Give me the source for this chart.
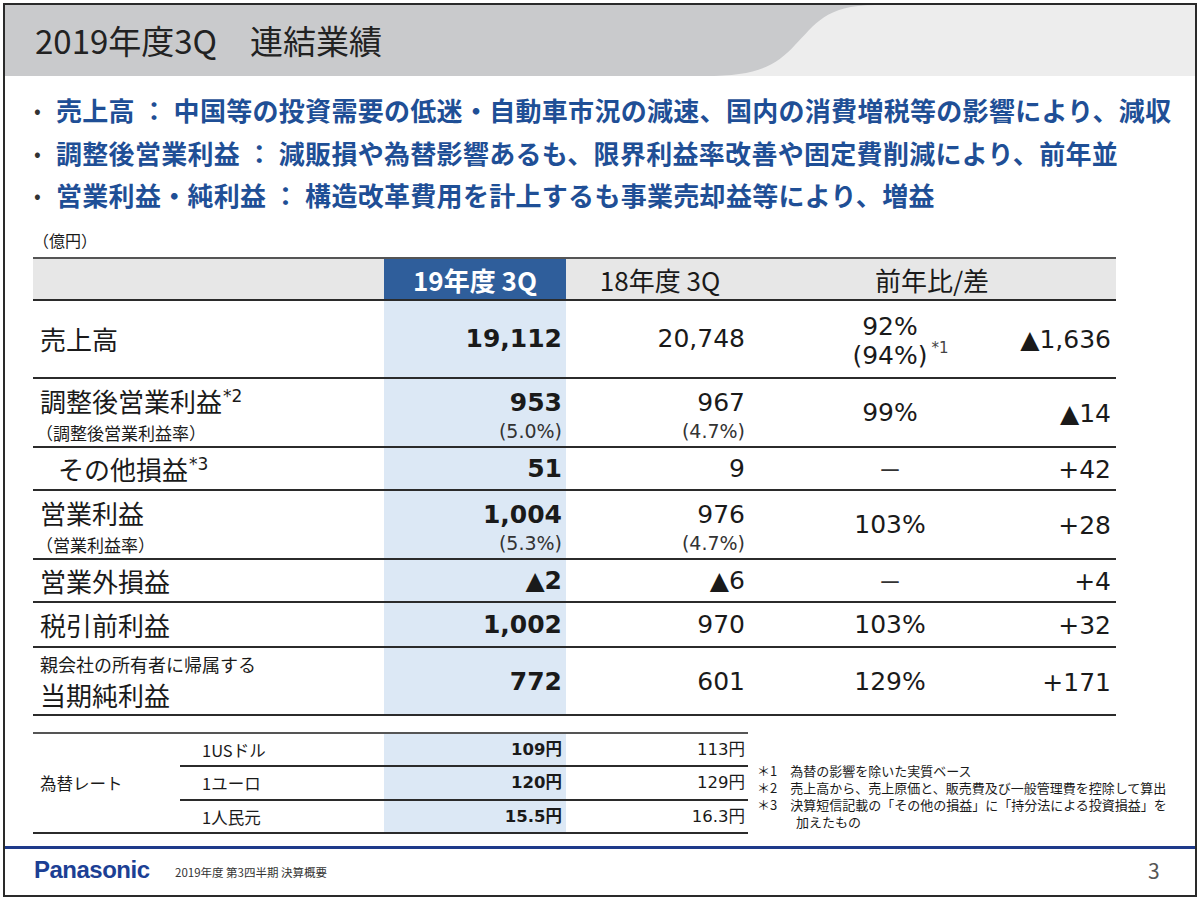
<!DOCTYPE html>
<html lang="ja">
<head>
<meta charset="utf-8">
<script src="https://cdn.jsdelivr.net/npm/chart.js"></script>
<style>
  body { margin: 0; width: 1200px; height: 900px; background: #fff; position: relative; overflow: hidden;
         font-family: "Noto Sans CJK JP", sans-serif; color: #1a1a1a; }
  .a { position: absolute; white-space: nowrap; }
  .num { font-family: "DejaVu Sans", "Noto Sans CJK JP", sans-serif; }
  .line { position: absolute; background: #333; }
  sup { vertical-align: 0; position: relative; margin-left: 1px; }
</style>
</head>
<body>

<div class="a" style="left:3px;top:3px;width:1190px;height:890px;border:2px solid #2a2a2a;"></div>

<!-- title bar -->
<svg class="a" style="left:5px;top:5px" width="1190" height="71">
  <rect x="0" y="0" width="1190" height="71" fill="#ededed"/>
  <path d="M0 0 L870 0 C820 0 810 20 790 40 C770 62 750 71 700 71 L0 71 Z" fill="#c9cacc"/>
</svg>
<div class="a" style="left:35px;top:19px;font-size:33px;line-height:42px;color:#222">2019年度3Q　連結業績</div>

<div id="bullets"></div>
<div class="a" style="left:33px;top:229px;font-size:16px;line-height:22px">（億円）</div>

<div id="table"></div>
<div id="fx"></div>
<div id="notes"></div>

<!-- footer -->
<div class="line" style="left:5px;top:846px;width:1190px;height:3px;background:#1e3a8a"></div>
<div class="a" style="left:34px;top:855px;font-family:'Liberation Sans',sans-serif;font-weight:bold;font-size:24px;line-height:30px;color:#1c3f94;letter-spacing:-0.5px">Panasonic</div>
<div class="a" style="left:175px;top:864px;font-size:11.5px;line-height:16px;color:#333">2019年度 第3四半期  決算概要</div>
<div class="a" style="left:1148px;top:856px;font-size:21px;line-height:28px;color:#555">3</div>

<script>
const bulletLines = [
  "売上高：中国等の投資需要の低迷・自動車市況の減速、国内の消費増税等の影響により、減収",
  "調整後営業利益：減販損や為替影響あるも、限界利益率改善や固定費削減により、前年並",
  "営業利益・純利益：構造改革費用を計上するも事業売却益等により、増益"
];
const headers = ["19年度 3Q", "18年度 3Q", "前年比/差"];
const rowLabels = ["売上高", "調整後営業利益", "その他損益", "営業利益", "営業外損益", "税引前利益", "当期純利益"];
const labelNotes = ["", "*2", "*3", "", "", "", ""];
const subLabels = ["", "（調整後営業利益率）", "", "（営業利益率）", "", "", ""];
const fy19 = ["19,112", "953", "51", "1,004", "▲2", "1,002", "772"];
const fy18 = ["20,748", "967", "9", "976", "▲6", "970", "601"];
const fy19Rate = ["", "(5.0%)", "", "(5.3%)", "", "", ""];
const fy18Rate = ["", "(4.7%)", "", "(4.7%)", "", "", ""];
const ratio = ["92%", "99%", "－", "103%", "－", "103%", "129%"];
const diff = ["▲1,636", "▲14", "+42", "+28", "+4", "+32", "+171"];
const fxLabel = "為替レート";
const fxCurrencies = ["1USドル", "1ユーロ", "1人民元"];
const fx19 = ["109円", "120円", "15.5円"];
const fx18 = ["113円", "129円", "16.3円"];
const footnotes = [
  "＊1　為替の影響を除いた実質ベース",
  "＊2　売上高から、売上原価と、販売費及び一般管理費を控除して算出",
  "＊3　決算短信記載の「その他の損益」に「持分法による投資損益」を",
  "　　　加えたもの"
];

function put(parent, html, x, y, opt) {
  opt = opt || {};
  const d = document.createElement("div");
  d.className = "a" + (opt.cls ? " " + opt.cls : "");
  const h = opt.h || 36;
  d.style.top = (y - h / 2) + "px";
  d.style.height = h + "px";
  d.style.lineHeight = h + "px";
  d.style.fontSize = (opt.size || 26) + "px";
  if (opt.bold) d.style.fontWeight = "bold";
  if (opt.color) d.style.color = opt.color;
  if (opt.ls) d.style.letterSpacing = opt.ls + "px";
  if (opt.align === "right") { d.style.right = (1200 - x) + "px"; d.style.textAlign = "right"; }
  else if (opt.align === "center") { d.style.left = (x - 200) + "px"; d.style.width = "400px"; d.style.textAlign = "center"; }
  else d.style.left = x + "px";
  d.innerHTML = html;
  parent.appendChild(d);
  return d;
}
function box(parent, x, y, w, h, bg) {
  const d = document.createElement("div");
  d.className = "a";
  Object.assign(d.style, { left: x + "px", top: y + "px", width: w + "px", height: h + "px", background: bg });
  parent.appendChild(d);
}

// bullets
const bl = document.getElementById("bullets");
const bulletY = [110, 153, 195];
bulletLines.forEach((t, i) => {
  put(bl, "•", 34, bulletY[i], { size: 20, color: "#333" });
  put(bl, t.replace("：", " ： "), 56, bulletY[i], { size: 26, bold: true, color: "#1f4f96", ls: 0.3 });
});

// main table
const tb = document.getElementById("table");
const rowEdges = [300, 378, 447, 490, 559, 602, 647, 715];
const colHL = [384, 566];
box(tb, 33, 258, 1083, 42, "#e7e7e7");
box(tb, colHL[0], 258, colHL[1] - colHL[0], 42, "#2f5e9b");
box(tb, colHL[0], 300, colHL[1] - colHL[0], 415, "#dce8f5");
box(tb, 33, 257, 1083, 2, "#555");
rowEdges.forEach(y => box(tb, 33, y - 1, 1083, 2, "#2b2b2b"));

put(tb, headers[0], 475, 280, { align: "center", size: 26, bold: true, color: "#fff" });
put(tb, headers[1], 660, 280, { align: "center", size: 26 });
put(tb, headers[2], 932, 280, { align: "center", size: 26 });

rowLabels.forEach((lab, i) => {
  const top = rowEdges[i], bot = rowEdges[i + 1], mid = (top + bot) / 2;
  const two = subLabels[i] !== "";
  const yMain = two ? top + 25 : mid;
  const note = labelNotes[i] ? "<sup class='num' style='font-size:17px;top:-10px'>" + labelNotes[i] + "</sup>" : "";
  if (i === 6) {
    put(tb, "親会社の所有者に帰属する", 40, top + 17, { size: 18, h: 22 });
    put(tb, lab, 40, top + 48, { size: 26, h: 28 });
  } else {
    put(tb, lab + note, i === 2 ? 58 : 40, two ? top + 23 : mid, { size: 26, h: two ? 28 : 36 });
  }
  if (two) put(tb, subLabels[i], 36, top + 55, { size: 17, h: 20 });

  const vY = (i === 6) ? mid + 1 : yMain;
  put(tb, fy19[i], 562, vY, { align: "right", size: 25, bold: true, cls: "num", h: 30 });
  put(tb, fy18[i], 745, vY, { align: "right", size: 25, cls: "num", h: 30 });
  if (fy19Rate[i]) put(tb, fy19Rate[i], 562, top + 53, { align: "right", size: 19, h: 20, cls: "num", color: "#333" });
  if (fy18Rate[i]) put(tb, fy18Rate[i], 745, top + 53, { align: "right", size: 19, h: 20, cls: "num", color: "#333" });

  const rY = (i === 6) ? mid + 1 : mid;
  if (i === 0) {
    put(tb, ratio[i], 890, top + 27, { align: "center", size: 25, cls: "num", h: 28 });
    put(tb, "(94%)<span style='position:absolute;font-size:15px;top:-8px;margin-left:4px;color:#444'>*1</span>", 890, top + 56, { align: "center", size: 25, cls: "num", h: 28 });
  } else if (ratio[i] === "－") {
    put(tb, ratio[i], 890, rY, { align: "center", size: 24, color: "#333" });
  } else {
    put(tb, ratio[i], 890, rY, { align: "center", size: 25, cls: "num" });
  }
  put(tb, diff[i], 1111, rY + 1, { align: "right", size: 25, cls: "num" });
});

// fx table
const fx = document.getElementById("fx");
const fxEdges = [733, 766, 800, 833];
box(fx, colHL[0], 734, colHL[1] - colHL[0], 99, "#dce8f5");
box(fx, 33, 732, 715, 2, "#555");
box(fx, 180, 765, 568, 2, "#2b2b2b");
box(fx, 180, 799, 568, 2, "#2b2b2b");
box(fx, 33, 832, 715, 2, "#2b2b2b");
put(fx, fxLabel, 40, 783, { size: 16.5, h: 24 });
fxCurrencies.forEach((c, i) => {
  const y = (fxEdges[i] + fxEdges[i + 1]) / 2;
  put(fx, c, 202, y, { size: 16.5, h: 24 });
  put(fx, fx19[i], 562, y, { align: "right", size: 16.5, bold: true, h: 24, cls: "num" });
  put(fx, fx18[i], 745, y, { align: "right", size: 16.5, h: 24, cls: "num" });
});

// notes
const nt = document.getElementById("notes");
const noteY = [771, 788, 805, 822];
footnotes.forEach((t, i) => put(nt, t, 757, noteY[i], { size: 13, h: 16 }));
</script>
</body>
</html>
